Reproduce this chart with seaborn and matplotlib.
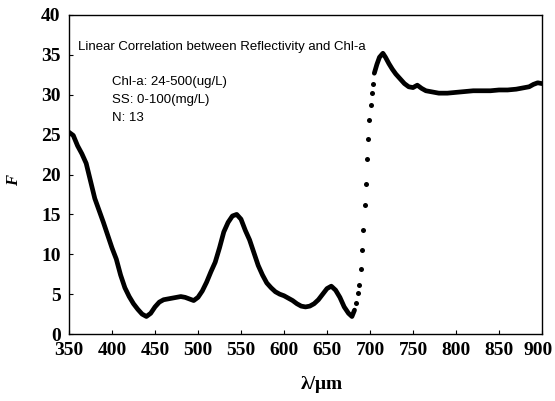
import numpy as np
import pandas as pd
import seaborn as sns
import matplotlib.pyplot as plt
from matplotlib.transforms import ScaledTranslation

# Values
# dense part before the red edge (drawn as a thick line of points)
wl_low = [350, 355, 360, 365, 370, 375, 380, 385, 390, 395, 400, 405, 410, 415,
          420, 425, 430, 435, 440, 445, 450, 455, 460, 465, 470, 475, 480, 485,
          490, 495, 500, 505, 510, 515, 520, 525, 530, 535, 540, 545, 550, 555,
          560, 565, 570, 575, 580, 585, 590, 595, 600, 605, 610, 615, 620, 625,
          630, 635, 640, 645, 650, 655, 660, 665, 670, 675, 679, 682]
f_low = [25.3, 24.9, 23.6, 22.6, 21.4, 19.2, 17.0, 15.5, 14.0, 12.4, 10.8, 9.4,
         7.4, 5.8, 4.7, 3.8, 3.1, 2.5, 2.2, 2.6, 3.4, 4.0, 4.3, 4.4, 4.5, 4.6,
         4.7, 4.6, 4.4, 4.2, 4.6, 5.4, 6.5, 7.8, 9.0, 10.8, 12.8, 14.0, 14.8,
         15.0, 14.4, 13.0, 11.8, 10.2, 8.6, 7.4, 6.4, 5.8, 5.3, 5.0, 4.8, 4.5,
         4.2, 3.8, 3.5, 3.4, 3.5, 3.8, 4.3, 5.0, 5.7, 6.0, 5.5, 4.6, 3.4, 2.6,
         2.2, 3.0]

# steep rise, points are visible one by one
wl_rise = [684, 686.4, 687.6, 689.5, 691, 691.5, 693.8, 695.3, 696.1, 697.3,
           698.8, 701.2, 702, 703.8]
f_rise = [3.9, 5.1, 6.1, 8.1, 10.5, 13.0, 16.2, 18.8, 21.9, 24.5, 26.8, 28.7,
          30.2, 31.4]

# plateau after the red edge
wl_high = [705, 708, 711, 715, 718, 722, 726, 730, 735, 740, 745, 750, 755, 760,
           765, 770, 780, 790, 800, 810, 820, 830, 840, 850, 860, 870, 880, 885,
           890, 895, 900]
f_high = [32.7, 33.8, 34.7, 35.2, 34.7, 33.9, 33.2, 32.6, 32.0, 31.4, 31.0,
          30.9, 31.2, 30.8, 30.5, 30.4, 30.2, 30.2, 30.3, 30.4, 30.5, 30.5,
          30.5, 30.6, 30.6, 30.7, 30.9, 31.0, 31.3, 31.5, 31.4]

x_ticks = list(range(350, 901, 50))
y_ticks = list(range(0, 41, 5))

sns.set_style("ticks")
plt.rcParams['font.family'] = ['Liberation Serif', 'DejaVu Serif']
plt.rcParams['text.color'] = 'black'
plt.rcParams['axes.labelcolor'] = 'black'
plt.rcParams['xtick.color'] = 'black'
plt.rcParams['ytick.color'] = 'black'

fig = plt.figure(figsize=(5.55, 4.01), dpi=100)
ax = fig.add_axes([0.1243, 0.167, 0.8523, 0.7956])

sns.lineplot(x=wl_low, y=f_low, ax=ax, color='black', lw=3.4, sort=False,
             estimator=None, solid_capstyle='round')
sns.lineplot(x=wl_high, y=f_high, ax=ax, color='black', lw=3.4, sort=False,
             estimator=None, solid_capstyle='round')
sns.scatterplot(x=wl_rise, y=f_rise, ax=ax, color='black', s=13,
                edgecolor='black', linewidth=0)

ax.set_xlim(350, 900)
ax.set_ylim(0, 40)
ax.set_xticks(x_ticks)
ax.set_yticks(y_ticks)
ax.tick_params(direction='in', length=3, width=0.8, labelsize=14, pad=6)
for lab in ax.get_xticklabels() + ax.get_yticklabels():
    lab.set_fontweight('bold')
# last x label sits a little left of its tick in the reference
last = ax.get_xticklabels()[-1]
last.set_transform(last.get_transform() + ScaledTranslation(-4 / 100, 0, fig.dpi_scale_trans))

for sp in ax.spines.values():
    sp.set_visible(True)
    sp.set_linewidth(1.0)
    sp.set_color('black')

ax.set_xlabel('λ/μm', fontsize=14, fontweight='bold')
ax.xaxis.set_label_coords(0.535, -0.13)
ax.set_ylabel('F', fontsize=12, fontweight='bold', fontstyle='italic')
ax.yaxis.set_label_coords(-0.10, 0.48)

sans = ['Liberation Sans', 'DejaVu Sans']
ax.text(0.019, 0.90, 'Linear Correlation between Reflectivity and Chl-a',
        transform=ax.transAxes, fontsize=9.5, family=sans, va='center')
ax.text(0.09, 0.791, 'Chl-a: 24-500(ug/L)', transform=ax.transAxes,
        fontsize=9.5, family=sans, va='center')
ax.text(0.09, 0.734, 'SS: 0-100(mg/L)', transform=ax.transAxes,
        fontsize=9.5, family=sans, va='center')
ax.text(0.09, 0.677, 'N: 13', transform=ax.transAxes,
        fontsize=9.5, family=sans, va='center')

fig.savefig('out.png', dpi=100)
